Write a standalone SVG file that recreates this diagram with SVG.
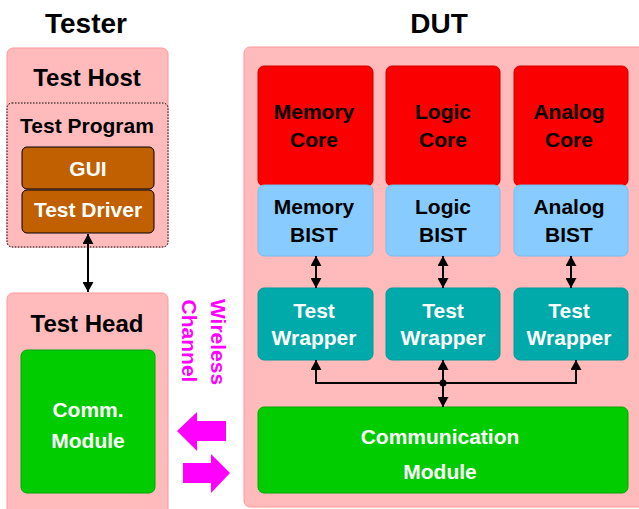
<svg xmlns="http://www.w3.org/2000/svg" width="639" height="509" viewBox="0 0 639 509">
  <defs>
    <marker id="ah" viewBox="0 0 10 10" refX="10" refY="5" markerWidth="10" markerHeight="11" orient="auto-start-reverse" markerUnits="userSpaceOnUse" preserveAspectRatio="none">
      <path d="M0,0 L10,5 L0,10 z" fill="#000"/>
    </marker>
    <style>
      text { font-family: "Liberation Sans", Arial, sans-serif; font-weight: bold; text-anchor: middle; }
      .title { font-size: 28px; fill: #000; }
      .hdr { font-size: 24px; fill: #000; }
      .lbl { font-size: 21px; fill: #000; }
      .wl { font-size: 21px; fill: #fff; }
      .pink { fill: #ffbbbb; stroke: #ff9999; stroke-width: 1; }
      .core { fill: #fa0000; stroke: #d00000; stroke-width: 1; }
      .bist { fill: #88ccff; stroke: #77bbee; stroke-width: 1; }
      .wrap { fill: #00aaaa; stroke: #009999; stroke-width: 1; }
      .green { fill: #00cc00; stroke: #00a800; stroke-width: 1; }
      .brown { fill: #c06000; stroke: #000; stroke-width: 1; }
      .conn { stroke: #000; stroke-width: 2; fill: none; }
    </style>
  </defs>

  <rect width="639" height="509" fill="#fff"/>

  <text class="title" x="86" y="33">Tester</text>
  <text class="title" x="439" y="33" font-size="26">DUT</text>

  <g id="test-host">
    <rect class="pink" x="7" y="48" width="161" height="199" rx="6"/>
    <text class="hdr" x="87" y="86">Test Host</text>
  </g>
  <g id="test-program">
    <rect x="7" y="103" width="161" height="144" rx="5" fill="#ffbbbb" stroke="#000" stroke-width="1" stroke-dasharray="1.5,1.5"/>
    <text class="lbl" x="87" y="133">Test Program</text>
  </g>
  <g id="gui">
    <rect class="brown" x="22" y="147" width="132" height="42" rx="5"/>
    <text class="wl" x="88" y="176">GUI</text>
  </g>
  <g id="test-driver">
    <rect class="brown" x="22" y="190" width="132" height="43" rx="5"/>
    <text class="wl" x="88" y="217">Test Driver</text>
  </g>

  <g id="test-head">
    <rect class="pink" x="7" y="293" width="161" height="222" rx="6"/>
    <text class="hdr" x="87" y="332">Test Head</text>
  </g>
  <g id="comm-module">
    <rect class="green" x="21" y="350" width="134" height="143" rx="6"/>
    <text class="wl" x="88" y="417">Comm.</text>
    <text class="wl" x="88" y="448">Module</text>
  </g>

  <g id="wireless-channel">
    <text x="0" y="0" transform="translate(211,342) rotate(90)" class="lbl" fill="#ff00ff" style="fill:#ff00ff">Wireless</text>
    <text x="0" y="0" transform="translate(182,341) rotate(90)" class="lbl" style="fill:#ff00ff">Channel</text>
    <polygon points="177,431 197,412 197,421 226,421 226,441 197,441 197,451" fill="#ff00ff"/>
    <polygon points="230,473 211,454 211,463 183,463 183,483 211,483 211,493" fill="#ff00ff"/>
  </g>

  <g id="dut">
    <rect class="pink" x="244" y="47" width="410" height="460" rx="6"/>
  </g>

  <g id="memory-core">
    <rect class="core" x="258" y="66" width="115" height="120" rx="6"/>
    <text class="lbl" x="314" y="119">Memory</text>
    <text class="lbl" x="314" y="147">Core</text>
  </g>
  <g id="logic-core">
    <rect class="core" x="386" y="66" width="114" height="120" rx="6"/>
    <text class="lbl" x="443" y="119">Logic</text>
    <text class="lbl" x="443" y="147">Core</text>
  </g>
  <g id="analog-core">
    <rect class="core" x="514" y="66" width="114" height="120" rx="6"/>
    <text class="lbl" x="569" y="119">Analog</text>
    <text class="lbl" x="569" y="147">Core</text>
  </g>

  <g id="memory-bist">
    <rect class="bist" x="258" y="185" width="115" height="71" rx="6"/>
    <text class="lbl" x="314" y="214">Memory</text>
    <text class="lbl" x="314" y="242">BIST</text>
  </g>
  <g id="logic-bist">
    <rect class="bist" x="386" y="185" width="114" height="71" rx="6"/>
    <text class="lbl" x="443" y="214">Logic</text>
    <text class="lbl" x="443" y="242">BIST</text>
  </g>
  <g id="analog-bist">
    <rect class="bist" x="514" y="185" width="114" height="71" rx="6"/>
    <text class="lbl" x="569" y="214">Analog</text>
    <text class="lbl" x="569" y="242">BIST</text>
  </g>

  <g id="wrapper-memory">
    <rect class="wrap" x="258" y="288" width="115" height="72" rx="6"/>
    <text class="wl" x="314" y="318">Test</text>
    <text class="wl" x="314" y="345">Wrapper</text>
  </g>
  <g id="wrapper-logic">
    <rect class="wrap" x="386" y="288" width="114" height="72" rx="6"/>
    <text class="wl" x="443" y="318">Test</text>
    <text class="wl" x="443" y="345">Wrapper</text>
  </g>
  <g id="wrapper-analog">
    <rect class="wrap" x="514" y="288" width="114" height="72" rx="6"/>
    <text class="wl" x="569" y="318">Test</text>
    <text class="wl" x="569" y="345">Wrapper</text>
  </g>

  <g id="communication-module">
    <rect class="green" x="258" y="407" width="370" height="86" rx="6"/>
    <text class="wl" x="440" y="444">Communication</text>
    <text class="wl" x="440" y="479">Module</text>
  </g>

  <g id="connectors">
    <line class="conn" x1="88" y1="234" x2="88" y2="292" marker-start="url(#ah)" marker-end="url(#ah)"/>
    <line class="conn" x1="316" y1="256" x2="316" y2="288" marker-start="url(#ah)" marker-end="url(#ah)"/>
    <line class="conn" x1="443" y1="256" x2="443" y2="288" marker-start="url(#ah)" marker-end="url(#ah)"/>
    <line class="conn" x1="571" y1="256" x2="571" y2="288" marker-start="url(#ah)" marker-end="url(#ah)"/>
    <path class="conn" d="M316,366 V383 H576 V366" />
    <line class="conn" x1="316" y1="383" x2="316" y2="360" marker-end="url(#ah)"/>
    <line class="conn" x1="443" y1="383" x2="443" y2="360" marker-end="url(#ah)"/>
    <line class="conn" x1="576" y1="383" x2="576" y2="360" marker-end="url(#ah)"/>
    <line class="conn" x1="443" y1="383" x2="443" y2="407" marker-end="url(#ah)"/>
    <circle cx="443" cy="383" r="3.5" fill="#000"/>
  </g>
</svg>
